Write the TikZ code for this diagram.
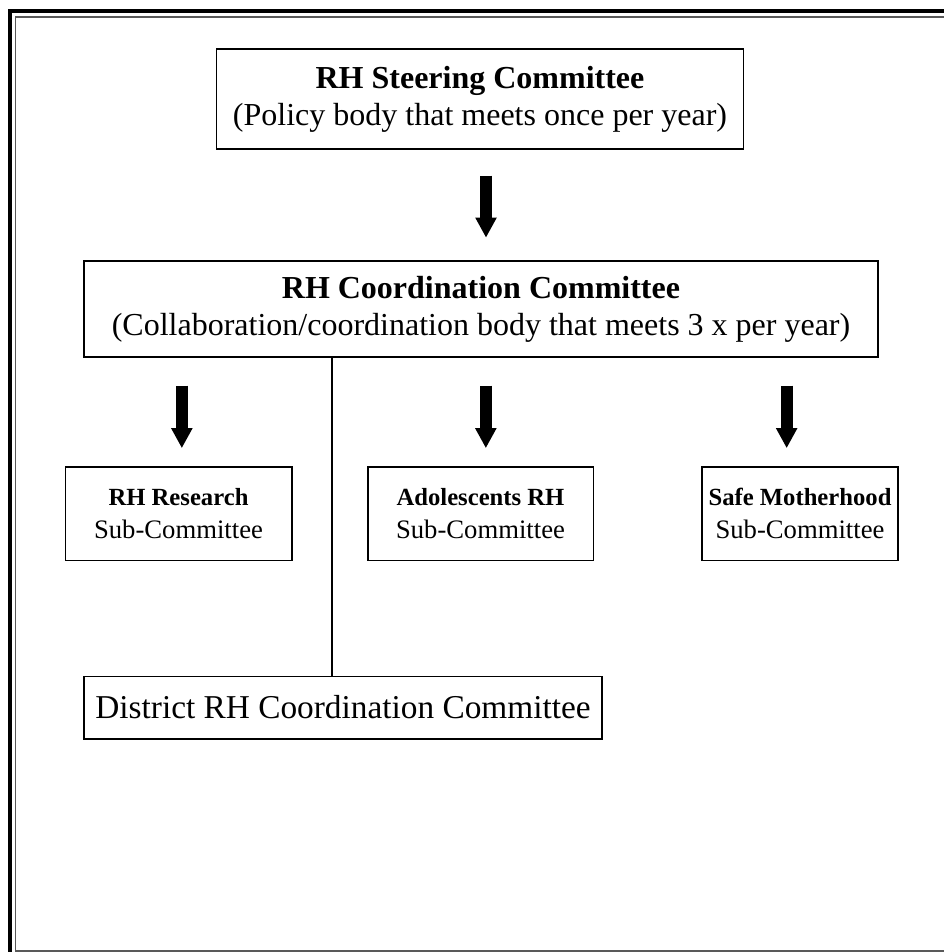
\documentclass[tikz,border=0pt]{standalone}
\usepackage{fontspec}
\setmainfont{Liberation Serif}
\usetikzlibrary{arrows.meta}
\tikzset{
  box/.style={draw,line width=1pt,align=center,inner sep=0pt},
  bigtext/.style={font=\fontsize{24}{27.75}\selectfont},
  subtext/.style={font=\fontsize{20}{24.75}\selectfont},
  downarrow/.style={line width=9pt,-{Triangle[width=15pt,length=15pt]}},
  link/.style={line width=1.5pt},
}
\newcommand{\subhead}[1]{{\fontsize{18.5}{24.75}\selectfont\bfseries #1}}

\begin{document}
\begin{tikzpicture}[x=0.75pt,y=-0.75pt]
  \clip (0,0) rectangle (944,952);
  % Frame
  \draw[line width=3pt] (10,11.5) rectangle (990,990);
  \draw[black!65,line width=1.2pt] (15.5,17) rectangle (980,951);
  % Committees
  \node[box,bigtext,minimum width=395pt,minimum height=75pt] (steer) at (480,99)
    {\textbf{RH Steering Committee}\\(Policy body that meets once per year)};
  \node[box,bigtext,minimum width=595.5pt,minimum height=72pt] (coord) at (481,309)
    {\textbf{RH Coordination Committee}\\(Collaboration/coordination body that meets 3 x per year)};
  \node[box,subtext,minimum width=170pt,minimum height=70pt] (research) at (178.5,513.5)
    {\subhead{RH Research}\\Sub-Committee};
  \node[box,subtext,minimum width=169pt,minimum height=70pt] (adol) at (480.5,513.5)
    {\subhead{Adolescents RH}\\Sub-Committee};
  \node[box,subtext,minimum width=147pt,minimum height=70pt] (safe) at (800,513.5)
    {\subhead{Safe Motherhood}\\Sub-Committee};
  \node[box,font=\fontsize{25}{30}\selectfont,minimum width=388.5pt,minimum height=47pt] (district) at (343,707.5)
    {District RH Coordination Committee};
  % Arrows
  \draw[downarrow,shorten <=19.5pt,shorten >=17pt] ([xshift=4.5pt]steer.south) -- ([xshift=4.5pt]steer.south |- coord.north);
  \draw[downarrow,shorten <=21pt,shorten >=13.5pt] ([xshift=2.5pt]research.north |- coord.south) -- ([xshift=2.5pt]research.north);
  \draw[downarrow,shorten <=21pt,shorten >=13.5pt] ([xshift=4pt]adol.north |- coord.south) -- ([xshift=4pt]adol.north);
  \draw[downarrow,shorten <=21pt,shorten >=13.5pt] ([xshift=-10pt]safe.north |- coord.south) -- ([xshift=-10pt]safe.north);
  % Link to district
  \draw[link] ([xshift=-8.25pt]district.north |- coord.south) -- ([xshift=-8.25pt]district.north);
\end{tikzpicture}
\end{document}
